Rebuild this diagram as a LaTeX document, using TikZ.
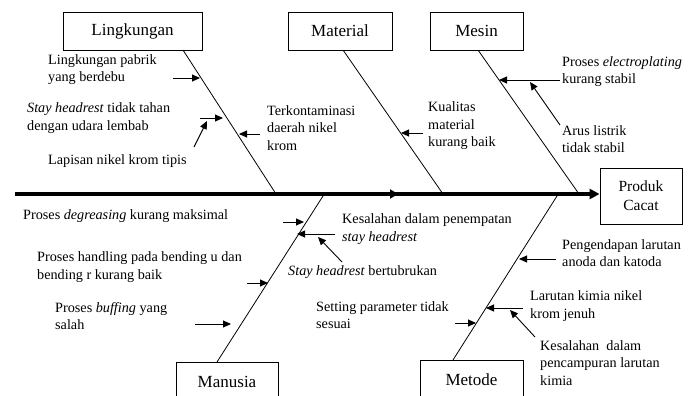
\documentclass[tikz,border=0pt]{standalone}
\usepackage{fontspec}
\setmainfont{Liberation Serif}
\usetikzlibrary{arrows.meta}
\begin{document}
\begin{tikzpicture}[x=1pt,y=-1pt,
  box/.style={draw, line width=0.9pt, inner sep=0pt, font=\fontsize{17}{20}\selectfont},
  lbl/.style={inner sep=0pt, anchor=west, align=left, font=\fontsize{14.2}{17.6}\selectfont},
  bone/.style={line width=0.8pt},
  spine/.style={line width=3.6pt, -{Triangle[length=10pt,width=10pt]}},
  cause/.style={line width=0.9pt, -{Triangle[length=8pt,width=7pt]}}]
\clip (0,0) rectangle (696,396);
% category boxes
\node[box, minimum width=139pt, minimum height=38pt] (ling) at (132.5,31) {Lingkungan};
\node[box, minimum width=104pt, minimum height=38pt] (mat) at (340,31) {Material};
\node[box, minimum width=93pt, minimum height=38pt] (mes) at (476.5,31) {Mesin};
\node[box, minimum width=82pt, minimum height=56pt, align=center, font=\fontsize{15.5}{19}\selectfont] (prod) at (641,196) {Produk\\Cacat};
\node[box, minimum width=102pt, minimum height=40pt] (man) at (227,382) {Manusia};
\node[box, minimum width=103pt, minimum height=40pt] (met) at (471.5,380) {Metode};
% spine
\coordinate (tail) at (15,194);
\coordinate (midA) at (385,194);
\coordinate (mid) at (398,194);
\draw[spine] (tail) -- (prod.west |- tail);
\draw[spine, -{Triangle[length=8pt,width=9pt]}] (midA) -- (mid);
% bones
\coordinate (lingA) at (183,50);  \coordinate (lingB) at (276,194);
\coordinate (matA) at (343,50);   \coordinate (matB) at (443,194);
\coordinate (mesA) at (478,50);   \coordinate (mesB) at (579,194);
\coordinate (manA) at (323,196);  \coordinate (manB) at (217,362);
\coordinate (metA) at (557,196);  \coordinate (metB) at (453,360);
\draw[bone] (lingA) -- (lingB);
\draw[bone] (matA) -- (matB);
\draw[bone] (mesA) -- (mesB);
\draw[bone] (manA) -- (manB);
\draw[bone] (metA) -- (metB);
% labels
\node[lbl] (t1) at (48,69.5) {Lingkungan pabrik\\yang berdebu};
\node[lbl] (t2) at (27,118) {\textit{Stay headrest} tidak tahan\\dengan udara lembab};
\node[lbl] (t3) at (48,161) {Lapisan nikel krom tipis};
\node[lbl] (t4) at (267,128) {Terkontaminasi\\daerah nikel\\krom};
\node[lbl] (t5) at (428,126) {Kualitas\\material\\kurang baik};
\node[lbl] (t6) at (562,71.5) {Proses \textit{electroplating}\\kurang stabil};
\node[lbl] (t7) at (562,139) {Arus listrik\\tidak stabil};
\node[lbl] (t8) at (23,216) {Proses \textit{degreasing} kurang maksimal};
\node[lbl] (t9) at (342,229) {Kesalahan dalam penempatan\\\textit{stay headrest}};
\node[lbl] (t10) at (288,272) {\textit{Stay headrest} bertubrukan};
\node[lbl] (t11) at (37,267) {Proses handling pada bending u dan\\bending r kurang baik};
\node[lbl] (t12) at (55,316) {Proses \textit{buffing} yang\\salah};
\node[lbl] (t13) at (316,315) {Setting parameter tidak\\sesuai};
\node[lbl] (t14) at (562,253) {Pengendapan larutan\\anoda dan katoda};
\node[lbl] (t15) at (530,306) {Larutan kimia nikel\\krom jenuh};
\node[lbl] (t16) at (540,363) {Kesalahan\ \ dalam\\pencampuran larutan\\kimia};
% cause arrows
\coordinate (a1s) at (173,78);  \coordinate (a1e) at (200,78);
\coordinate (a2s) at (200,118); \coordinate (a2e) at (223,118);
\coordinate (a3s) at (194,147); \coordinate (a3e) at (207,121);
\coordinate (a4s) at (260,134); \coordinate (a4e) at (239,134);
\coordinate (a5s) at (423,133); \coordinate (a5e) at (401,133);
\coordinate (a6s) at (560,80);  \coordinate (a6e) at (499,80);
\coordinate (a7s) at (560,125); \coordinate (a7e) at (530,82);
\coordinate (a8s) at (283,222); \coordinate (a8e) at (304,222);
\coordinate (a9s) at (335,234); \coordinate (a9e) at (297,234);
\coordinate (a10s) at (342,262); \coordinate (a10e) at (318,237);
\coordinate (a11s) at (247,283); \coordinate (a11e) at (268,283);
\coordinate (a12s) at (195,324); \coordinate (a12e) at (231,324);
\coordinate (a13s) at (455,323); \coordinate (a13e) at (476,323);
\coordinate (a14s) at (556,259); \coordinate (a14e) at (519,259);
\coordinate (a15s) at (523,308); \coordinate (a15e) at (486,308);
\coordinate (a16s) at (535,337); \coordinate (a16e) at (510,310);
\foreach \i in {1,...,16} {\draw[cause] (a\i s) -- (a\i e);}
\end{tikzpicture}
\end{document}
